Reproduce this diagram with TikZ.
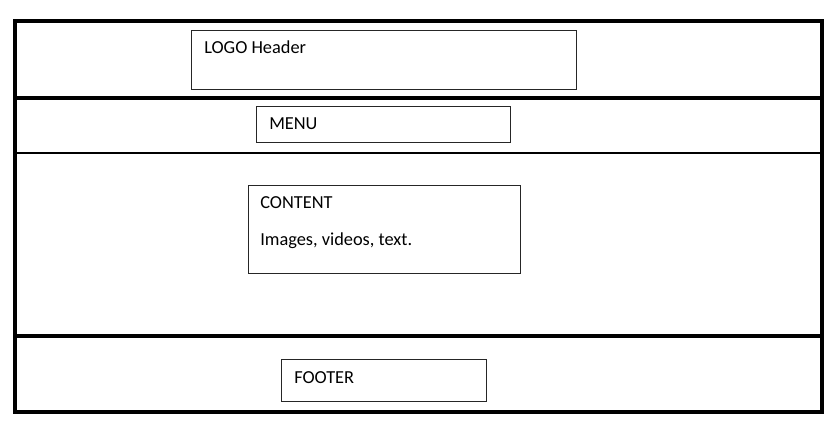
\documentclass[tikz,border=0pt]{standalone}
\usepackage{fontspec}
\setmainfont{Carlito}
\usetikzlibrary{positioning}
\newcommand{\XLeft}{15}
\newcommand{\XRight}{822}
\newcommand{\YTop}{21}
\newcommand{\YMenu}{98}
\newcommand{\YContent}{153}
\newcommand{\YFooter}{336}
\newcommand{\YBottom}{412}
\newcommand{\FrameWidth}{2.5pt}
\colorlet{frameStroke}{black}
\colorlet{boxStroke}{black!85}
\begin{document}
\begin{tikzpicture}[
  x=0.75pt,y=-0.75pt,
  frame/.style={draw=frameStroke,line width=\FrameWidth},
  divider/.style={draw=frameStroke,line width=1.9pt},
  box/.style={rectangle,draw=boxStroke,line width=0.8pt,inner sep=0pt,anchor=north west},
  label/.style={font=\fontsize{13.75}{15}\selectfont,anchor=base west,inner sep=0pt}
]
\useasboundingbox (0,0) rectangle (838,427);

% Page frame and sections
\draw[frame] (\XLeft,\YTop) rectangle (\XRight,\YBottom);
\draw[divider,line width=2.3pt] (\XLeft,\YMenu) -- (\XRight,\YMenu);
\draw[divider,line width=1.7pt] (\XLeft,\YContent) -- (\XRight,\YContent);
\draw[divider,line width=2.6pt] (\XLeft,\YFooter) -- (\XRight,\YFooter);

% Boxes
\node[box,minimum width=385*0.75pt,minimum height=59*0.75pt] (logo) at (191,30) {};
\node[box,minimum width=254*0.75pt,minimum height=36*0.75pt] (menu) at (256,106) {};
\node[box,minimum width=272*0.75pt,minimum height=88*0.75pt] (content) at (248,185) {};
\node[box,minimum width=205*0.75pt,minimum height=42*0.75pt] (footer) at (281,359) {};

% Labels
\node[label] (logotext) at (204,54) {LOGO Header};
\node[label] (menutext) at (269,130) {MENU};
\node[label] (contenttitle) at (260,209) {CONTENT};
\node[label] (contenttext) at (260,246) {Images, videos, text.};
\node[label] (footertext) at (294,383) {FOOTER};

\end{tikzpicture}
\end{document}
